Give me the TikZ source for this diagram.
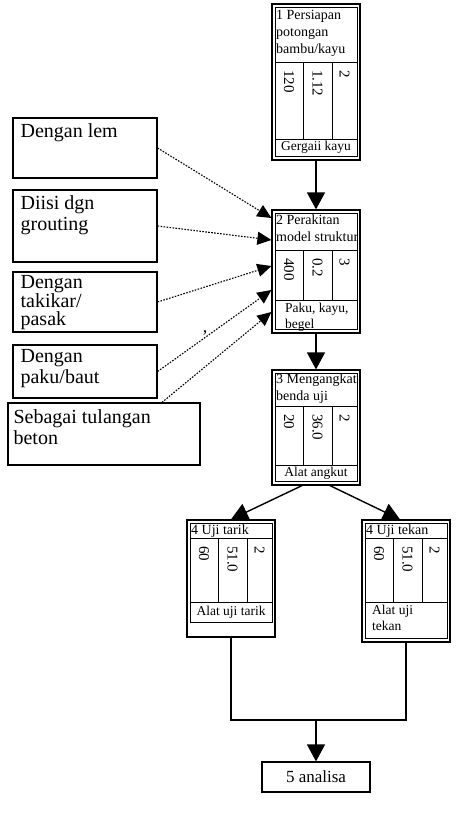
\documentclass[tikz,border=0pt]{standalone}
\usepackage{fontspec}
\setmainfont{Liberation Serif}
\usetikzlibrary{arrows.meta,fit,calc}
\tikzset{
 frame/.style={draw, line width=1.2pt, inner sep=0pt},
 innerline/.style={line width=0.9pt},
 ttl/.style={anchor=north west, align=left, inner sep=0pt, font=\fontsize{14}{17}\selectfont},
 num/.style={rotate=-90, anchor=west, inner sep=0pt, font=\fontsize{15}{17}\selectfont},
 lbl/.style={inner sep=0pt, font=\fontsize{13.5}{15.5}\selectfont, align=left},
 lbox/.style={draw, line width=1.2pt, inner sep=0pt},
 ltxt/.style={anchor=north west, align=left, inner sep=0pt, font=\fontsize{20}{21}\selectfont},
 flow/.style={line width=1.4pt, -{Triangle[length=17pt,width=18pt]}},
 dots/.style={line width=1.1pt, dash pattern=on 1.6pt off 1.4pt, -{Triangle[length=14pt,width=13pt]}},
 plain/.style={line width=1.1pt},
}
\newcommand\pframe[8]{%
  \node[frame, fit={(#2,#3)(#4,#5)}] (#1) {};
  \draw[innerline] ({#2+3},{#3+3}) rectangle ({#4-3},#8);
  \draw[innerline] ({#2+3},#6) -- ({#4-3},#6);
  \draw[innerline] ({#2+3},#7) -- ({#4-3},#7);
  \draw[innerline] ({#2+31},#6) -- ({#2+31},#7);
  \draw[innerline] ({#2+60},#6) -- ({#2+60},#7);
}
\newcommand\pnums[5]{% x0 tdiv n1 n2 n3
  \node[num] at ({#1+17},{#2+8}) {#3};
  \node[num] at ({#1+45.5},{#2+8}) {#4};
  \node[num] at ({#1+72.5},{#2+8}) {#5};
}
\begin{document}
\begin{tikzpicture}[x=1pt,y=-1pt]
\useasboundingbox (0,0) rectangle (460,822);

% process boxes
\pframe{b1}{272}{4}{360}{160}{62}{139}{156}
\node[ttl] (t1) at (276,10) {1 Persiapan\\potongan\\bambu/kayu};
\pnums{272}{62}{120}{1.12}{2}
\node[lbl] (g1) at (316,147.5) {Gergaii kayu};

\pframe{b2}{272}{210}{360}{333}{250}{300}{329}
\node[ttl] (t2) at (276,215) {2 Perakitan\\model struktur};
\pnums{272}{250}{400}{0.2}{3}
\node[lbl, anchor=north west] (g2) at (285,303) {Paku, kayu,\\begel};

\pframe{b3}{272}{370}{360}{485}{406}{465}{481}
\node[ttl] (t3) at (276,374) {3 Mengangkat\\benda uji};
\pnums{272}{406}{20}{36.0}{2}
\node[lbl] (g3) at (316,473) {Alat angkut};

\pframe{b4}{187}{520}{275}{637}{538}{602}{622}
\node[ttl] (t4) at (191,525) {4 Uji tarik};
\pnums{187}{538}{60}{51.0}{2}
\node[lbl] (g4) at (231,612) {Alat uji tarik};

\pframe{b5}{362}{520}{450}{642}{538}{602}{638}
\node[ttl] (t5) at (366,525) {4 Uji tekan};
\pnums{362}{538}{60}{51.0}{2}
\node[lbl, anchor=north west] (g5) at (372,605) {Alat uji\\tekan};

\node[frame, minimum width=108pt, minimum height=30pt, font=\fontsize{17}{19}\selectfont] (b6) at (316,777) {5 analisa};

% left boxes
\node[lbox, fit={(13,118)(157,178)}] (l1) {};
\node[ltxt] at ($(l1.north west)+(8,6)$) {Dengan lem};
\node[lbox, fit={(13,190)(157,262)}] (l2) {};
\node[ltxt] at ($(l2.north west)+(8,6)$) {Diisi dgn\\grouting};
\node[lbox, fit={(13,272)(157,332)}] (l3) {};
\node[ltxt, font=\fontsize{20}{18.5}\selectfont] at ($(l3.north west)+(8,4)$) {Dengan\\takikar/\\pasak};
\node[lbox, fit={(13,345)(157,398)}] (l4) {};
\node[ltxt] at ($(l4.north west)+(8,5)$) {Dengan\\paku/baut};
\node[lbox, fit={(8,403)(200,465)}] (l5) {};
\node[ltxt] at ($(l5.north west)+(6,7)$) {Sebagai tulangan\\beton};

\node[inner sep=0pt, font=\fontsize{18}{18}\selectfont] (cm) at (205,333) {,};

% main flow
\draw[flow] (b1) -- (b2);
\draw[flow] (b2) -- (b3);
\draw[flow] ($(b3.south)+(-14,0)$) -- ($(b4.north)+(0,0)$);
\draw[flow] ($(b3.south)+(14,0)$) -- ($(b5.north)+(-6,0)$);
\coordinate (m) at (316,720);
\draw[plain] (b4.south) -- (b4.south |- m) -- (b5.south |- m) -- (b5.south);
\draw[flow] (m) -- (b6.north);

% dotted inputs
\coordinate (y1) at (0,218);
\coordinate (y2) at (0,240);
\coordinate (y3) at (0,266);
\coordinate (y4) at (0,290);
\coordinate (y5) at (0,312);
\draw[dots] (l1.east) -- (b2.west |- y1);
\draw[dots] (l2.east) -- (b2.west |- y2);
\draw[dots] (l3.east) -- (b2.west |- y3);
\draw[dots] (l4.east) -- (b2.west |- y4);
\draw[dots] ($(l5.north west)!0.8!(l5.north east)$) -- (b2.west |- y5);
\end{tikzpicture}
\end{document}
